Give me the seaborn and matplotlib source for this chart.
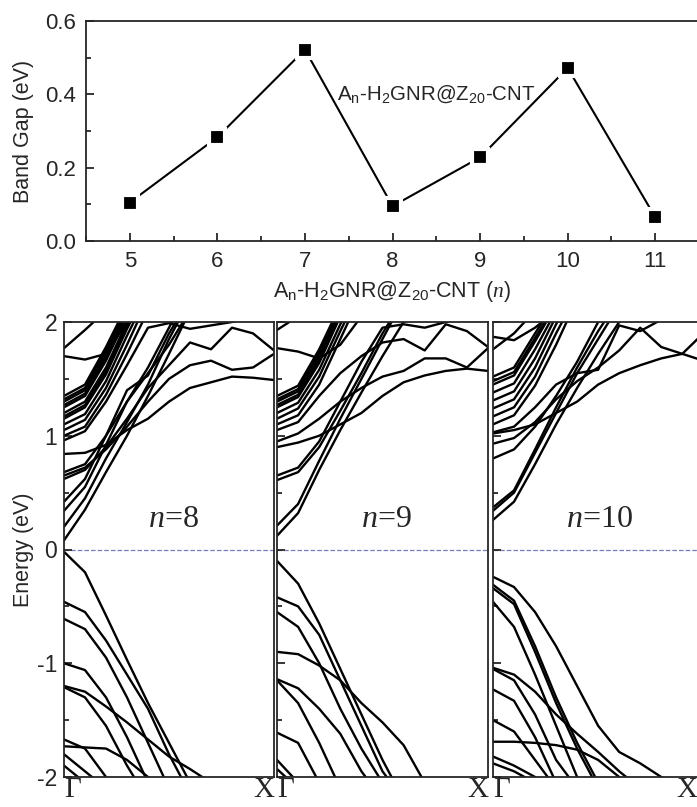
import pandas as pd
import matplotlib.pyplot as plt
import seaborn as sns
from matplotlib.ticker import MultipleLocator

# ================== DATA ==================
N_VALUES = [5, 6, 7, 8, 9, 10, 11]
BAND_GAP = [0.105, 0.283, 0.522, 0.095, 0.228, 0.472, 0.065]

K_STEP = 0.1  # bands sampled every 0.1 along Gamma -> X

BANDS_N8 = [
    # conduction
    [1.77, 1.93, 2.10],
    [1.70, 1.67, 1.72, 2.00, 2.20],
    [1.35, 1.45, 1.78, 2.15],
    [1.32, 1.42, 1.75, 2.12],
    [1.30, 1.40, 1.72, 2.10],
    [1.27, 1.37, 1.69, 2.07],
    [1.25, 1.35, 1.66, 2.05],
    [1.20, 1.30, 1.60, 2.00, 2.30],
    [1.17, 1.27, 1.57, 1.97, 2.30],
    [1.15, 1.25, 1.54, 1.94, 2.30],
    [1.10, 1.19, 1.48, 1.88, 2.25],
    [1.05, 1.14, 1.42, 1.80, 2.20],
    [1.00, 1.08, 1.36, 1.72, 2.10],
    [0.96, 1.04, 1.30, 1.62, 1.95, 1.99, 1.94, 1.97, 2.00, 2.05, 2.10],
    [0.84, 0.85, 0.92, 1.05, 1.15, 1.30, 1.42, 1.47, 1.52, 1.51, 1.49],
    [0.68, 0.75, 1.00, 1.30, 1.55, 1.80, 2.10],
    [0.65, 0.72, 0.88, 1.08, 1.30, 1.50, 1.62, 1.66, 1.58, 1.60, 1.72],
    [0.62, 0.70, 0.90, 1.15, 1.42, 1.62, 1.82, 1.76, 1.95, 1.90, 1.75],
    [0.42, 0.62, 1.00, 1.40, 1.53, 1.90, 2.20],
    [0.34, 0.55, 0.92, 1.30, 1.60, 1.95, 2.30],
    [0.20, 0.45, 0.80, 1.12, 1.45, 1.85, 2.20],
    [0.08, 0.35, 0.68, 1.00, 1.35, 1.72, 2.10],
    # valence
    [-0.02, -0.20, -0.58, -0.97, -1.35, -1.70, -2.05],
    [-0.46, -0.55, -0.80, -1.10, -1.40, -1.80, -2.15],
    [-0.61, -0.70, -0.95, -1.30, -1.70, -2.10],
    [-1.00, -1.06, -1.30, -1.65, -2.05],
    [-1.20, -1.25, -1.38, -1.52, -1.67, -1.82, -1.93, -2.05],
    [-1.21, -1.30, -1.55, -1.90, -2.20],
    [-1.67, -1.75, -2.00, -2.20],
    [-1.73, -1.74, -1.75, -1.85, -2.00, -2.10],
    [-1.80, -1.95, -2.10],
    [-1.90, -2.05],
]

BANDS_N9 = [
    # conduction
    [1.93, 2.05],
    [1.77, 1.74, 1.68, 1.80, 2.05],
    [1.35, 1.44, 1.76, 2.15],
    [1.32, 1.41, 1.73, 2.12],
    [1.30, 1.39, 1.70, 2.10],
    [1.27, 1.36, 1.67, 2.07],
    [1.25, 1.34, 1.64, 2.05],
    [1.20, 1.29, 1.58, 1.98, 2.30],
    [1.15, 1.24, 1.52, 1.92, 2.30],
    [1.10, 1.18, 1.45, 1.85, 2.25],
    [1.05, 1.12, 1.35, 1.55, 1.70, 1.82, 1.85, 1.75, 1.98, 1.92, 1.78],
    [0.95, 1.02, 1.15, 1.30, 1.42, 1.52, 1.57, 1.68, 1.68, 1.60, 1.77],
    [0.90, 0.94, 1.00, 1.10, 1.20, 1.35, 1.47, 1.53, 1.57, 1.59, 1.57],
    [0.65, 0.72, 0.95, 1.30, 1.65, 1.95, 1.98, 1.95, 2.00, 2.05],
    [0.61, 0.68, 0.90, 1.22, 1.55, 1.90, 2.20],
    [0.21, 0.40, 0.78, 1.15, 1.50, 1.85, 2.20],
    [0.12, 0.32, 0.70, 1.05, 1.38, 1.70, 2.00, 2.30],
    # valence
    [-0.10, -0.30, -0.65, -1.05, -1.45, -1.85, -2.20],
    [-0.42, -0.50, -0.75, -1.15, -1.55, -1.95, -2.20],
    [-0.55, -0.68, -1.00, -1.40, -1.75, -2.05],
    [-0.90, -0.92, -1.02, -1.15, -1.35, -1.52, -1.72, -2.05],
    [-1.14, -1.22, -1.40, -1.62, -1.95, -2.20],
    [-1.15, -1.35, -1.70, -2.10],
    [-1.61, -1.70, -2.05],
    [-1.85, -2.05],
    [-1.93, -2.10],
]

BANDS_N10 = [
    # conduction
    [1.87, 1.84, 1.95, 2.10],
    [1.76, 1.90, 2.10],
    [1.52, 1.60, 1.90, 2.20],
    [1.48, 1.56, 1.86, 2.17],
    [1.45, 1.53, 1.83, 2.15],
    [1.38, 1.46, 1.76, 2.10],
    [1.31, 1.39, 1.68, 2.05],
    [1.24, 1.32, 1.60, 1.98, 2.30],
    [1.17, 1.25, 1.52, 1.90, 2.25],
    [1.10, 1.18, 1.44, 1.80, 2.20],
    [1.03, 1.08, 1.25, 1.45, 1.55, 1.58, 1.97, 1.92, 2.02, 2.10],
    [1.02, 1.05, 1.10, 1.20, 1.30, 1.45, 1.55, 1.62, 1.68, 1.72, 1.66],
    [0.93, 0.98, 1.12, 1.32, 1.48, 1.60, 1.75, 1.95, 1.78, 1.72, 1.90],
    [0.80, 0.88, 1.08, 1.35, 1.65, 2.00, 2.30],
    [0.37, 0.52, 0.88, 1.25, 1.60, 1.92, 2.20],
    [0.34, 0.50, 0.85, 1.20, 1.55, 1.85, 2.15],
    [0.26, 0.42, 0.75, 1.10, 1.42, 1.72, 2.00, 2.30],
    # valence
    [-0.24, -0.33, -0.55, -0.85, -1.20, -1.55, -1.78, -1.88, -2.00, -2.10],
    [-0.31, -0.45, -0.85, -1.30, -1.70, -2.05],
    [-0.34, -0.48, -0.90, -1.35, -1.75, -2.10],
    [-0.46, -0.68, -1.10, -1.55, -2.00, -2.20],
    [-1.04, -1.10, -1.25, -1.45, -1.62, -1.78, -1.95, -2.10],
    [-1.05, -1.15, -1.45, -1.85, -2.10],
    [-1.23, -1.33, -1.65, -2.05],
    [-1.50, -1.60, -1.85, -2.10],
    [-1.69, -1.69, -1.70, -1.72, -1.76, -1.85, -2.00, -2.10],
    [-1.82, -1.90, -2.00, -2.10],
    [-1.88, -1.95, -2.05],
]

PANELS = [(BANDS_N8, '8'), (BANDS_N9, '9'), (BANDS_N10, '10')]
K_LABELS = ['\u0393', 'X']


def bands_frame(bands):
    rows = []
    for b, vals in enumerate(bands):
        for i, e in enumerate(vals):
            rows.append({'band': b, 'k': i * K_STEP, 'E': e})
    return pd.DataFrame(rows)


# ================== STYLE ==================
sns.set_style('ticks')
plt.rcParams['font.family'] = ['Liberation Sans', 'DejaVu Sans']
plt.rcParams['mathtext.fontset'] = 'custom'
plt.rcParams['mathtext.rm'] = 'Liberation Sans'
plt.rcParams['mathtext.it'] = 'Liberation Serif:italic'
plt.rcParams['axes.unicode_minus'] = False
plt.rcParams['xtick.direction'] = 'in'
plt.rcParams['ytick.direction'] = 'in'
plt.rcParams['axes.linewidth'] = 1.3

W, H = 697, 807
fig = plt.figure(figsize=(W / 100, H / 100), dpi=100)
SERIF = ['Liberation Serif', 'DejaVu Serif']
FS = 15.5

# ================== BAND GAP PANEL ==================
ax0 = fig.add_axes([86 / W, 1 - 241 / H, 613 / W, 220 / H])
df_gap = pd.DataFrame({'n': N_VALUES, 'gap': BAND_GAP})
sns.lineplot(data=df_gap, x='n', y='gap', ax=ax0, color='k', lw=1.5,
             marker='s', markersize=11.5, markerfacecolor='k',
             markeredgecolor='white', markeredgewidth=3)
ax0.set_xlim(4.5, 11.5)
ax0.set_ylim(0, 0.6)
ax0.xaxis.set_major_locator(MultipleLocator(1))
ax0.xaxis.set_minor_locator(MultipleLocator(0.5))
ax0.yaxis.set_major_locator(MultipleLocator(0.2))
ax0.yaxis.set_minor_locator(MultipleLocator(0.1))
ax0.yaxis.set_major_formatter(plt.FormatStrFormatter('%.1f'))
ax0.tick_params(which='major', length=6, width=1.3, labelsize=FS + 0.5, pad=7)
ax0.tick_params(which='minor', length=3.5, width=1.3)
for s in ax0.spines.values():
    s.set_visible(True)
ax0.spines['right'].set_visible(False)
ax0.set_ylabel('Band Gap (eV)', fontsize=FS, labelpad=8)
ax0.set_xlabel(r'A$_\mathrm{n}$-H$_\mathrm{2}$GNR@Z$_\mathrm{20}$-CNT ($n$)',
               fontsize=FS, labelpad=5)
ax0.text(8.5, 0.40, r'A$_\mathrm{n}$-H$_\mathrm{2}$GNR@Z$_\mathrm{20}$-CNT',
         ha='center', va='center', fontsize=14.8)

# ================== BAND STRUCTURES ==================
lefts = [64, 277, 493]
widths = [210, 211, 204]
for i, ((bands, lab), left, w) in enumerate(zip(PANELS, lefts, widths)):
    ax = fig.add_axes([left / W, 1 - 777 / H, w / W, 455 / H])
    df = bands_frame(bands)
    sns.lineplot(data=df, x='k', y='E', units='band', estimator=None,
                 sort=False, color='k', lw=1.7, ax=ax)
    ax.axhline(0, color='#7c7cb8', ls='--', lw=0.9, zorder=0)
    kmax = 1 if i < 2 else 0.97  # last panel is cut at the figure edge
    ax.set_xlim(0, kmax)
    ax.set_ylim(-2, 2)
    ax.set_xticks([0, kmax])
    ax.set_xticklabels(K_LABELS, family=SERIF, fontsize=21)
    tl = ax.get_xticklabels()
    tl[0].set_ha('left')
    tl[1].set_ha('right')
    ax.tick_params(axis='x', length=0, pad=0)
    ax.yaxis.set_major_locator(MultipleLocator(1))
    ax.yaxis.set_minor_locator(MultipleLocator(0.5))
    ax.tick_params(axis='y', which='major', length=6, width=1.3, labelsize=FS + 1, pad=5)
    ax.tick_params(axis='y', which='minor', length=3.5, width=1.3)
    for s in ax.spines.values():
        s.set_visible(True)
    if i == 2:
        ax.spines['right'].set_visible(False)
    ax.set_xlabel('')
    if i == 0:
        ax.set_ylabel('Energy (eV)', fontsize=FS, labelpad=2)
    else:
        ax.set_ylabel('')
        ax.set_yticklabels([])
    ax.text(0.52 if i < 2 else 0.505, 0.26, r'$n$=' + lab, ha='center', va='center',
            fontsize=23, family=SERIF)

plt.savefig('out.png', dpi=100)
plt.close()
